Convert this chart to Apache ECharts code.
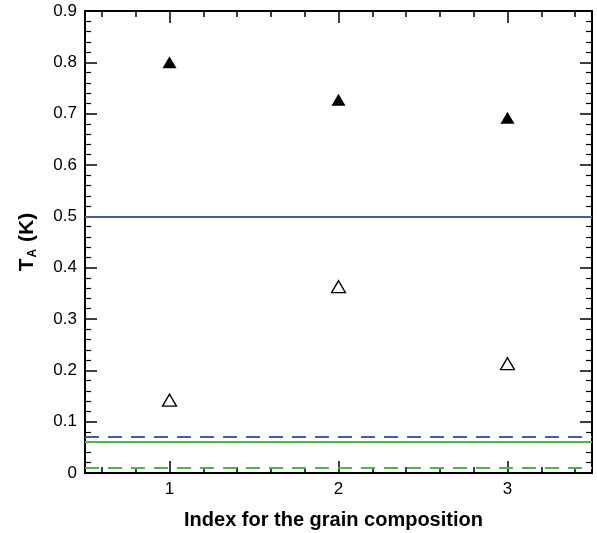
<!DOCTYPE html>
<html>
<head>
<meta charset="utf-8">
<script src="https://cdn.jsdelivr.net/npm/echarts@6/dist/echarts.min.js"></script>
<style>
html,body{margin:0;padding:0;background:#fff;}
#c{width:597px;height:533px;}
</style>
</head>
<body>
<div id="c"></div>
<script>
// ---- data ----
var compositionIndex = [1, 2, 3];
var filledTA = [0.80, 0.727, 0.692];
var openTA = [0.142, 0.363, 0.213];
var blueSolidLevel = 0.50;
var blueDashedLevel = 0.07;
var greenSolidLevel = 0.06;
var greenDashedLevel = 0.01;
var xMajorTicks = [1, 2, 3];
var xMinorTicks = [0.6, 0.8, 1.2, 1.4, 1.6, 1.8, 2.2, 2.4, 2.6, 2.8, 3.2, 3.4];

var FONT = '"Liberation Sans", Arial, sans-serif';
var BLUE = '#4a5aab';
var GREEN = '#4cb84a';

function pairs(xs, ys) { return xs.map(function (x, i) { return [x, ys[i]]; }); }

var chart = echarts.init(document.getElementById('c'), null, {renderer: 'canvas'});

var axisLineStyle = {color: '#000', width: 2};
function xAx(pos, ticks, len, showLine, showLabel, name) {
  return {
    type: 'value', position: pos, min: 0.5, max: 3.5,
    axisLine: {show: showLine, onZero: false, lineStyle: axisLineStyle},
    axisTick: {show: true, inside: true, length: len, customValues: ticks, lineStyle: {color: '#000', width: 1.5}},
    axisLabel: {show: showLabel, customValues: ticks, margin: 8, color: '#000', fontSize: 17, fontFamily: FONT},
    splitLine: {show: false},
    name: name || '',
    nameLocation: 'middle', nameGap: 37,
    nameTextStyle: {color: '#000', fontSize: 20, fontWeight: 'bold', fontFamily: FONT, padding: [0, 10, 0, 0]}
  };
}
function yAx(pos, showLabel, name) {
  return {
    type: 'value', position: pos, min: 0, max: 0.9, interval: 0.1,
    axisLine: {show: true, onZero: false, lineStyle: axisLineStyle},
    axisTick: {show: true, inside: true, length: 12, lineStyle: {color: '#000', width: 1.5}},
    minorTick: {show: true, splitNumber: 5, length: 6, lineStyle: {color: '#000', width: 1.2}},
    axisLabel: {show: showLabel, margin: 8, color: '#000', fontSize: 17, fontFamily: FONT},
    splitLine: {show: false}, minorSplitLine: {show: false},
    name: name || '',
    nameLocation: 'middle', nameGap: 46,
    nameTextStyle: {
      color: '#000', fontFamily: FONT,
      rich: {
        b: {fontSize: 21, fontWeight: 'bold', fontFamily: FONT, color: '#000', verticalAlign: 'top', lineHeight: 22},
        s: {fontSize: 12, fontWeight: 'bold', fontFamily: FONT, color: '#000', verticalAlign: 'bottom', lineHeight: 12, padding: [16, 1, 0, 1]}
      }
    }
  };
}

function levelSeries(name, value, color, dashed) {
  return {
    name: name, type: 'line', xAxisIndex: 0, yAxisIndex: 0, data: [], z: 3,
    markLine: {
      silent: true, symbol: ['none', 'none'], animation: false,
      label: {show: false},
      lineStyle: {color: color, width: 2, type: dashed ? [14, 9] : 'solid'},
      data: [{yAxis: value}]
    }
  };
}

chart.setOption({
  animation: false,
  backgroundColor: '#fff',
  grid: {left: 85, right: 5, top: 11, bottom: 60, containLabel: false, outerBoundsMode: 'none'},
  xAxis: [
    xAx('bottom', xMajorTicks, 12, true, true, 'Index for the grain composition'),
    xAx('bottom', xMinorTicks, 6, false, false),
    xAx('top', xMajorTicks, 12, true, false),
    xAx('top', xMinorTicks, 6, false, false)
  ],
  yAxis: [
    yAx('left', true, '{b|T}{s|A}{b| (K)}'),
    yAx('right', false)
  ],
  series: [
    levelSeries('blue solid', blueSolidLevel, BLUE, false),
    levelSeries('blue dashed', blueDashedLevel, BLUE, true),
    levelSeries('green solid', greenSolidLevel, GREEN, false),
    levelSeries('green dashed', greenDashedLevel, GREEN, true),
    {
      name: 'filled', type: 'scatter', xAxisIndex: 0, yAxisIndex: 0, z: 5,
      symbol: 'triangle', symbolSize: [14, 12],
      itemStyle: {color: '#000', opacity: 1},
      data: pairs(compositionIndex, filledTA)
    },
    {
      name: 'open', type: 'scatter', xAxisIndex: 0, yAxisIndex: 0, z: 5,
      symbol: 'triangle', symbolSize: [14, 12],
      itemStyle: {color: '#fff', borderColor: '#000', borderWidth: 1.3, opacity: 1},
      data: pairs(compositionIndex, openTA)
    }
  ]
});
</script>
</body>
</html>
